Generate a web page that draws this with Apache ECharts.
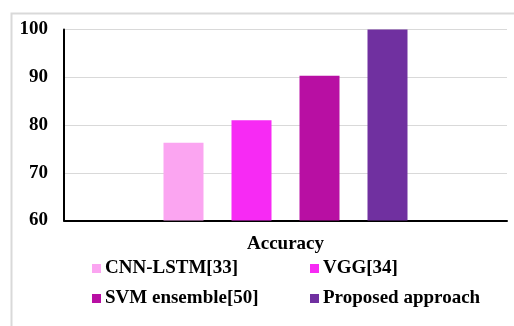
<!DOCTYPE html>
<html>
<head>
<meta charset="utf-8">
<script src="https://cdn.jsdelivr.net/npm/echarts@6/dist/echarts.min.js"></script>
<style>
  html, body { margin: 0; padding: 0; background: #ffffff; }
  #chart { width: 514px; height: 326px; }
</style>
</head>
<body>
<div id="chart"></div>
<script>
// Accuracy comparison of methods
const categories = ['Accuracy'];
const methods = ['CNN-LSTM[33]', 'VGG[34]', 'SVM ensemble[50]', 'Proposed approach'];
const accuracy = [76.3, 81.0, 90.3, 100];
const colors = ['#FBA5F1', '#F72AF4', '#B80FA3', '#7030A0'];
const yTicks = [60, 70, 80, 90, 100];

const FONT = '"Liberation Serif", "Times New Roman", serif';
const FS = 19;

const chart = echarts.init(document.getElementById('chart'), null, { renderer: 'canvas' });

const series = methods.map((name, i) => ({
  name: name,
  type: 'bar',
  data: [accuracy[i]],
  barWidth: 40,
  barGap: '70%',
  itemStyle: { color: colors[i] }
}));

// one legend entry per slot, laid out as a 2x2 block
const legendPos = [
  { left: 92, top: 259 },
  { left: 310, top: 259 },
  { left: 92, top: 289 },
  { left: 310, top: 289 }
];
const legends = methods.map((name, i) => ({
  data: [name],
  left: legendPos[i].left,
  top: legendPos[i].top,
  padding: 0,
  orient: 'horizontal',
  icon: 'rect',
  itemWidth: 9,
  itemHeight: 9,
  itemGap: 0,
  selectedMode: false,
  textStyle: { fontFamily: FONT, fontWeight: 'bold', fontSize: FS, color: '#000', padding: [0, 0, 0, -1] }
}));

chart.setOption({
  animation: false,
  graphic: [{
    type: 'rect',
    left: 9, top: 11,
    shape: { width: 520, height: 330 },
    style: { fill: 'none', stroke: '#d9d9d9', lineWidth: 2 },
    silent: true
  }],
  grid: { left: 64, top: 29.5, right: 7, bottom: 105.5, containLabel: false },
  legend: legends,
  xAxis: {
    type: 'category',
    data: categories,
    axisLine: { show: true, lineStyle: { color: '#000', width: 2 } },
    axisTick: { show: false },
    axisLabel: { fontFamily: FONT, fontWeight: 'bold', fontSize: FS, color: '#000', margin: 14 }
  },
  yAxis: {
    type: 'value',
    min: yTicks[0],
    max: yTicks[yTicks.length - 1],
    interval: 10,
    axisLine: { show: true, lineStyle: { color: '#000', width: 2 } },
    axisTick: { show: false },
    axisLabel: { fontFamily: FONT, fontWeight: 'bold', fontSize: FS, color: '#000', margin: 16 },
    splitLine: { show: true, lineStyle: { color: '#d9d9d9', width: 1 } }
  },
  series: series
});
</script>
</body>
</html>
